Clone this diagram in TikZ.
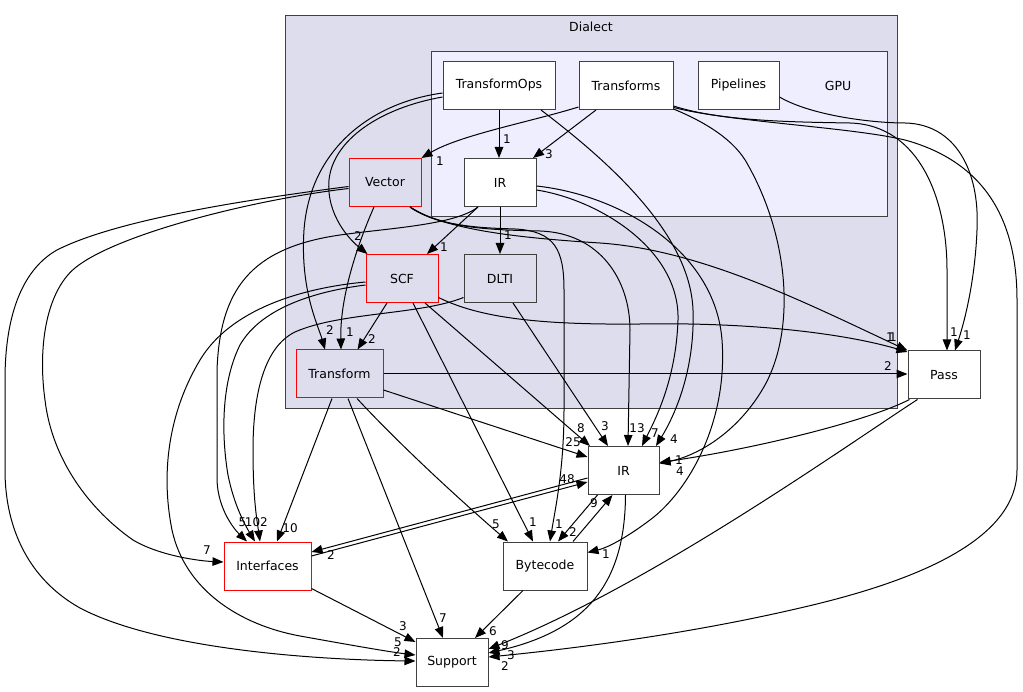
\documentclass[tikz,border=0pt]{standalone}
\usepackage{fontspec}
\setmainfont{DejaVu Sans}
\usetikzlibrary{arrows.meta,calc}
\definecolor{dialectfill}{HTML}{DDDDEE}
\definecolor{gpufill}{HTML}{EEEEFF}
\definecolor{bordergray}{HTML}{404040}
\begin{document}
\begin{tikzpicture}[x=1pt,y=-1pt,
  box/.style={draw=bordergray,line width=1pt,rectangle,minimum height=48pt,inner sep=0pt,font=\fontsize{12.5}{14}\selectfont,text=black},
  wbox/.style={box,fill=white},
  rbox/.style={box,draw=red,fill=dialectfill},
  rwbox/.style={box,draw=red,fill=white},
  gbox/.style={box,fill=dialectfill},
  cluster/.style={draw=bordergray,line width=1pt},
  clbl/.style={font=\fontsize{12.5}{14}\selectfont,inner sep=0pt},
  lbl/.style={font=\fontsize{12}{13}\selectfont,inner sep=0pt},
  dep/.style={draw=black,line width=1pt,-{Triangle[length=11pt,width=8.5pt]}},
]
\useasboundingbox (0,0) rectangle (1023,692);
% clusters
\draw[cluster,fill=dialectfill] (285,15.5) rectangle (897,409);
\node[clbl] (dialectlbl) at (591,27) {Dialect};
\draw[cluster,fill=gpufill] (431.5,51.5) rectangle (887,216.5);
\node[clbl] (gpulbl) at (838,85.5) {GPU};
% nodes
\node[wbox,minimum width=112pt] (tops) at (499,85.5) {TransformOps};
\node[wbox,minimum width=94pt] (tfs) at (626,85.5) {Transforms};
\node[wbox,minimum width=81pt] (pipe) at (738.5,85.5) {Pipelines};
\node[rbox,minimum width=72pt] (vec) at (385,182.5) {Vector};
\node[wbox,minimum width=72pt] (gir) at (500,182.5) {IR};
\node[rbox,minimum width=72pt] (scf) at (402,278.5) {SCF};
\node[gbox,minimum width=72pt] (dlti) at (500,278.5) {DLTI};
\node[rbox,minimum width=87pt] (tr) at (339.5,374) {Transform};
\node[wbox,minimum width=72pt] (pass) at (944,375) {Pass};
\node[wbox,minimum width=71pt] (ir) at (623.5,470.5) {IR};
\node[rwbox,minimum width=87pt] (intf) at (267.5,566) {Interfaces};
\node[wbox,minimum width=84pt] (byte) at (545,566) {Bytecode};
\node[wbox,minimum width=72pt] (sup) at (452,662.5) {Support};
% GPU internal
\draw[dep] (tops.south) -- (tops.south |- gir.north);
\draw[dep] ($(tfs.south)+(-30,0)$) -- ($(gir.north)+(33,0)$);
\draw[dep] ($(tfs.south west)+(0,-3)$) .. controls (530,122) and (460,135) .. (vec.north east);
\draw[dep] ($(tops.west)+(0,11.5)$) .. controls (380,108) and (333,140) .. (329,180) .. controls (326,215) and (350,240) .. ($(scf.north west)+(2,0)$);
\draw[dep] ($(tops.west)+(0,7.5)$) .. controls (370,103) and (310,150) .. (304,230) .. controls (300,290) and (318,325) .. ($(tr.north)+(-14.5,0)$);
\draw[dep] ($(tops.south)+(42,0)$) .. controls (600,155) and (690,230) .. (693,310) .. controls (695,370) and (675,415) .. ($(ir.north)+(32.5,0)$);
\draw[dep] ($(tfs.south east)+(0,-1)$) .. controls (705,122) and (735,140) .. (748,165) .. controls (790,240) and (795,330) .. (765,385) .. controls (740,430) and (700,455) .. ($(ir.east)+(0,-7)$);
\draw[dep] ($(tfs.east)+(0,20.5)$) .. controls (720,121) and (790,122) .. (850,123) .. controls (920,125) and (947,200) .. (947,270) -- ($(pass.north)+(3,0)$);
\draw[dep] ($(tfs.east)+(0,22)$) .. controls (730,122) and (850,127) .. (905,140) .. controls (985,162) and (1017,220) .. (1017,300) -- (1017,470) .. controls (1017,545) and (900,585) .. (800,608) .. controls (680,636) and (560,650) .. ($(sup.east)+(0,-5.5)$);
\draw[dep] ($(pipe.east)+(0,11.5)$) .. controls (810,115) and (870,123) .. (905,123) .. controls (955,124) and (980,170) .. (977,230) .. controls (975,280) and (965,320) .. ($(pass.north)+(11,0)$);
% Vector
\draw[dep] ($(vec.south)+(-11,0)$) .. controls (355,250) and (340,300) .. ($(tr.north)+(1.5,0)$);
\draw[dep] ($(vec.west)+(0,6)$) .. controls (250,200) and (115,235) .. (75,268) .. controls (45,293) and (38,350) .. (45,400) .. controls (52,460) and (90,510) .. (133,540) .. controls (160,556) and (200,561) .. ($(intf.west)+(0,-4)$);
\draw[dep] ($(vec.west)+(0,4)$) .. controls (260,198) and (120,218) .. (57,250) .. controls (25,268) and (5,310) .. (5,380) -- (5,470) .. controls (5,530) and (30,580) .. (80,608) .. controls (160,650) and (320,660) .. ($(sup.west)+(0,-1.5)$);
\draw[dep] ($(vec.south)+(25,0)$) .. controls (440,228) and (490,230) .. (540,231) .. controls (600,233) and (630,280) .. (630,330) -- ($(ir.north)+(4.5,0)$);
\draw[dep] ($(vec.south)+(25,0)$) .. controls (440,228) and (490,228) .. (515,229) .. controls (555,231) and (564,250) .. (564,290) -- (564,410) .. controls (564,470) and (555,510) .. ($(byte.north)+(5,0)$);
\draw[dep] ($(vec.south)+(25,0)$) .. controls (445,230) and (520,238) .. (600,243) .. controls (700,250) and (800,300) .. (pass.north west);
% SCF
\draw[dep] ($(scf.south)+(-15,0)$) -- ($(tr.north)+(18,0)$);
\draw[dep] ($(scf.south)+(23,0)$) -- ($(ir.north)+(-33.5,0)$);
\draw[dep] ($(scf.south)+(11,0)$) -- ($(byte.north)+(-12,0)$);
\draw[dep] ($(scf.east)+(0,19)$) .. controls (480,318) and (540,325) .. (640,324) .. controls (760,322) and (850,335) .. ($(pass.north west)+(0,1.5)$);
\draw[dep] ($(scf.west)+(0,6.5)$) .. controls (310,292) and (260,310) .. (240,345) .. controls (220,385) and (222,440) .. (228,475) .. controls (234,505) and (245,525) .. ($(intf.north)+(-12.5,0)$);
\draw[dep] ($(scf.west)+(0,3.5)$) .. controls (300,288) and (230,310) .. (200,360) .. controls (170,410) and (160,470) .. (172,530) .. controls (185,590) and (240,625) .. (300,636) .. controls (350,645) and (390,652) .. ($(sup.west)+(0,-7.5)$);
% GPU IR
\draw[dep] ($(gir.south)+(-22,0)$) -- ($(scf.north)+(25,0)$);
\draw[dep] (gir.south) -- (dlti.north);
\draw[dep] ($(gir.east)+(0,7.5)$) .. controls (600,200) and (680,250) .. (678,320) .. controls (676,380) and (655,420) .. ($(ir.north)+(18.5,0)$);
\draw[dep] ($(gir.east)+(0,3.5)$) .. controls (620,195) and (715,250) .. (722,340) .. controls (728,420) and (690,490) .. (650,520) .. controls (630,535) and (610,547) .. ($(byte.east)+(0,-13.5)$);
\draw[dep] ($(gir.south)+(-22,0)$) .. controls (455,225) and (390,228) .. (340,235) .. controls (250,248) and (220,290) .. (217,370) -- (217,480) .. controls (218,510) and (235,530) .. ($(intf.north)+(-20.5,0)$);
% DLTI
\draw[dep] ($(dlti.south)+(13,0)$) -- ($(ir.north)+(-15.5,0)$);
\draw[dep] ($(dlti.west)+(0,19)$) .. controls (420,315) and (340,312) .. (295,332) .. controls (262,348) and (253,400) .. (253,450) .. controls (253,500) and (257,520) .. ($(intf.north)+(-7.5,0)$);
% Transform
\draw[dep] (tr.east) -- (tr.east -| pass.west);
\draw[dep] ($(tr.east)+(0,16)$) -- ($(ir.west)+(0,-13.5)$);
\draw[dep] ($(tr.south)+(17.5,0)$) .. controls (400,445) and (460,500) .. ($(byte.north)+(-37,0)$);
\draw[dep] ($(tr.south)+(-7.5,0)$) -- ($(intf.north)+(9.5,0)$);
\draw[dep] ($(tr.south)+(8.5,0)$) -- ($(sup.north)+(-9,0)$);
% Pass
\draw[dep] ($(pass.south west)+(2,0)$) .. controls (870,420) and (760,448) .. ($(ir.east)+(0,-8)$);
\draw[dep] ($(pass.south west)+(10,0)$) .. controls (840,450) and (650,585) .. ($(sup.east)+(0,-13.5)$);
% IR
\draw[dep] ($(ir.west)+(0,7.5)$) -- ($(intf.east)+(0,-14)$);
\draw[dep] ($(ir.south)+(-26,0)$) -- ($(byte.north)+(13,0)$);
\draw[dep] ($(ir.south)+(2,0)$) .. controls (625,580) and (590,630) .. ($(sup.east)+(0,-9.5)$);
% Interfaces
\draw[dep] ($(intf.east)+(0,-10)$) -- ($(ir.west)+(0,11.5)$);
\draw[dep] ($(intf.south east)+(0,-2)$) -- ($(sup.west)+(0,-20.5)$);
% Bytecode
\draw[dep] ($(byte.north)+(28,0)$) -- ($(ir.south)+(-11,0)$);
\draw[dep] ($(byte.south)+(-22,0)$) -- ($(sup.north)+(23,0)$);
% edge labels
\node[lbl] (l1) at (507,139) {1};
\node[lbl] (l2) at (549,154) {3};
\node[lbl] (l3) at (440,161) {1};
\node[lbl] (l4) at (358,236) {2};
\node[lbl] (l5) at (330,330) {2};
\node[lbl] (l6) at (350,332) {1};
\node[lbl] (l7) at (372,339) {2};
\node[lbl] (l8) at (444,247) {1};
\node[lbl] (l9) at (508,235) {1};
\node[lbl] (l10) at (890,337) {1};
\node[lbl] (l11) at (893,337) {1};
\node[lbl] (l12) at (888,366) {2};
\node[lbl] (l13) at (954,332) {1};
\node[lbl] (l14) at (967,335) {1};
\node[lbl] (l15) at (581,428) {8};
\node[lbl] (l16) at (605,426) {3};
\node[lbl] (l17) at (637,428) {13};
\node[lbl] (l18) at (655,433) {7};
\node[lbl] (l19) at (674,439) {4};
\node[lbl] (l20) at (573,442) {25};
\node[lbl] (l21) at (567,479) {48};
\node[lbl] (l22) at (679,460) {1};
\node[lbl] (l23) at (680,471) {4};
\node[lbl] (l24) at (594,503) {9};
\node[lbl] (l25) at (573,532) {2};
\node[lbl] (l26) at (496,524) {5};
\node[lbl] (l27) at (533,522) {1};
\node[lbl] (l28) at (559,524) {1};
\node[lbl] (l29) at (606,554) {1};
\node[lbl] (l30) at (207,550) {7};
\node[lbl] (l31) at (242.5,522) {5};
\node[lbl] (l32) at (252.5,522) {10};
\node[lbl] (l33) at (264,522) {2};
\node[lbl] (l34) at (290,528) {10};
\node[lbl] (l35) at (331,555) {2};
\node[lbl] (l36) at (403,626) {3};
\node[lbl] (l37) at (398,642) {5};
\node[lbl] (l38) at (397,652) {2};
\node[lbl] (l39) at (443,618) {7};
\node[lbl] (l40) at (493,631) {6};
\node[lbl] (l41) at (505,645) {9};
\node[lbl] (l42) at (511,655) {3};
\node[lbl] (l43) at (505,666) {2};
\end{tikzpicture}
\end{document}
